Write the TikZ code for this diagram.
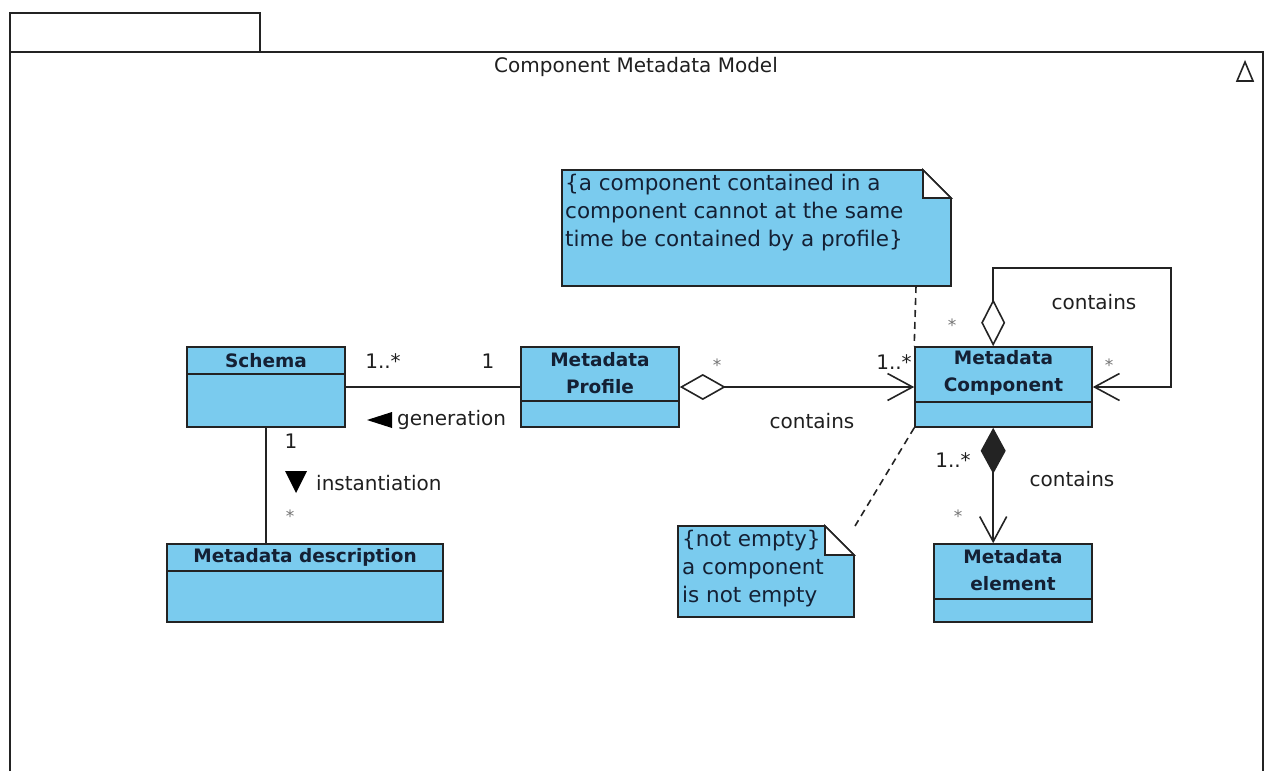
\documentclass[tikz,border=0pt]{standalone}
\usepackage{fontspec}
\setmainfont{DejaVu Sans}
\usetikzlibrary{arrows.meta,calc}
\definecolor{umlblue}{RGB}{122,203,238}
\definecolor{umlline}{RGB}{35,35,35}
\definecolor{headtext}{RGB}{20,32,52}
\definecolor{startext}{RGB}{115,115,115}
\begin{document}
\begin{tikzpicture}[x=1pt,y=-1pt,
  classbox/.style={draw=umlline, fill=umlblue, line width=1.6pt, inner sep=0pt, rectangle},
  divider/.style={draw=umlline, line width=1.6pt},
  classname/.style={font=\bfseries\fontsize{18.5}{27}\selectfont, text=headtext, align=center, inner sep=0pt},
  lbl/.style={font=\fontsize{20}{24}\selectfont, text=black!88, inner sep=0pt},
  starlbl/.style={font=\fontsize{17}{20}\selectfont, text=startext, inner sep=0pt},
  notebody/.style={draw=umlline, fill=umlblue, line width=1.6pt},
  notefold/.style={draw=umlline, fill=white, line width=1.6pt},
  notetext/.style={font=\fontsize{21.5}{28}\selectfont, text=headtext, align=left, inner sep=0pt, anchor=north west},
  assoc/.style={draw=umlline, line width=1.6pt},
  anchorline/.style={draw=umlline, line width=1.6pt, dash pattern=on 7pt off 5pt},
  framestyle/.style={draw=umlline, line width=1.8pt},
  ]
\useasboundingbox (0,0) rectangle (1268,771);

% package frame with its name tab
\draw[framestyle] (10,52) -- (10,13) -- (260,13) -- (260,52);
\draw[framestyle] (10,771) -- (10,52) -- (1263,52) -- (1263,771);
\node[lbl] (title) at (636,67) {Component Metadata Model};
\draw[umlline, line width=1.6pt, line join=miter] (1245,62) -- (1253,81) -- (1237,81) -- cycle;

% classes
\node[classbox, minimum width=158pt, minimum height=80pt] (schema) at (266,387) {};
\draw[divider] ($(schema.north west)+(0,28)$) -- ($(schema.north east)+(0,28)$);
\node[classname] (schemaname) at ($(schema.north)+(0,14)$) {Schema};

\node[classbox, minimum width=158pt, minimum height=80pt] (profile) at (600,387) {};
\draw[divider] ($(profile.north west)+(0,55)$) -- ($(profile.north east)+(0,55)$);
\node[classname] (profilename) at ($(profile.north)+(0,27)$) {Metadata\\Profile};

\node[classbox, minimum width=177pt, minimum height=80pt] (comp) at (1003.5,387) {};
\draw[divider] ($(comp.north west)+(0,56)$) -- ($(comp.north east)+(0,56)$);
\node[classname] (compname) at ($(comp.north)+(0,27)$) {Metadata\\Component};

\node[classbox, minimum width=158pt, minimum height=78pt] (elem) at (1013,583) {};
\draw[divider] ($(elem.north west)+(0,56)$) -- ($(elem.north east)+(0,56)$);
\node[classname] (elemname) at ($(elem.north)+(0,27)$) {Metadata\\element};

\node[classbox, minimum width=276pt, minimum height=78pt] (desc) at (305,583) {};
\draw[divider] ($(desc.north west)+(0,28)$) -- ($(desc.north east)+(0,28)$);
\node[classname] (descname) at ($(desc.north)+(0,14)$) {Metadata description};

% constraint notes
\draw[notebody] (562,170) -- (923,170) -- (951,198) -- (951,286) -- (562,286) -- cycle;
\draw[notefold, line join=miter] (923,170) -- (923,198) -- (951,198) -- cycle;
\node[notetext] (note1) at (565,174) {\{a component contained in a\\component cannot at the same\\time be contained by a profile\}};
\coordinate (note1foot) at (916,286);

\draw[notebody] (678,526) -- (825,526) -- (854,555) -- (854,617) -- (678,617) -- cycle;
\draw[notefold, line join=miter] (825,526) -- (825,555) -- (854,555) -- cycle;
\node[notetext] (note2) at (682,530) {\{not empty\}\\a component\\is not empty};
\coordinate (note2corner) at (855,526);

\draw[anchorline] (note1foot) -- (comp.north west);
\draw[anchorline] (comp.south west) -- (note2corner);

% generation: Schema -- Profile
\draw[assoc] (schema.east) -- (profile.west);
\node[lbl] (genmulta) at (383,361) {1..*};
\node[lbl] (genmultb) at (488,361) {1};
\fill[black] (367,420) -- (392,412) -- (392,428) -- cycle;
\node[lbl, anchor=west] (genlabel) at (397,420) {generation};

% instantiation: Schema -- Metadata description
\draw[assoc] (schema.south) -- (schema.south |- desc.north);
\node[lbl] (instmulta) at (291,441) {1};
\fill[black] (285,471) -- (307,471) -- (296,493) -- cycle;
\node[lbl, anchor=west] (instlabel) at (316,483) {instantiation};
\node[starlbl] (instmultb) at (290,516) {*};

% aggregation: Profile contains Component
\draw[assoc, {Diamond[open,length=46pt,width=26pt]}-{Straight Barb[length=25pt,width=27pt]}] (profile.east) -- (comp.west);
\node[starlbl] (aggmulta) at (717,365) {*};
\node[lbl] (aggmultb) at (894,362) {1..*};
\node[lbl] (agglabel) at (812,421) {contains};

% self aggregation on Component
\coordinate (loopfoot) at ($(comp.north west)+(79,0)$);
\draw[assoc, {Diamond[open,length=47pt,width=24pt]}-{Straight Barb[length=25pt,width=27pt]}] (loopfoot) -- ++(0,-78) -| ($(comp.east)+(78,0)$) -- (comp.east);
\node[starlbl] (loopmulta) at (952,325) {*};
\node[starlbl] (loopmultb) at (1109,365) {*};
\node[lbl] (looplabel) at (1094,302) {contains};

% composition: Component contains element
\coordinate (compfoot) at ($(comp.south west)+(79,0)$);
\draw[assoc, {Diamond[length=46pt,width=25pt]}-{Straight Barb[length=25pt,width=27pt]}] (compfoot) -- (compfoot |- elem.north);
\node[lbl] (compmulta) at (953,460) {1..*};
\node[starlbl] (compmultb) at (958,516) {*};
\node[lbl] (complabel) at (1072,479) {contains};
\end{tikzpicture}
\end{document}
